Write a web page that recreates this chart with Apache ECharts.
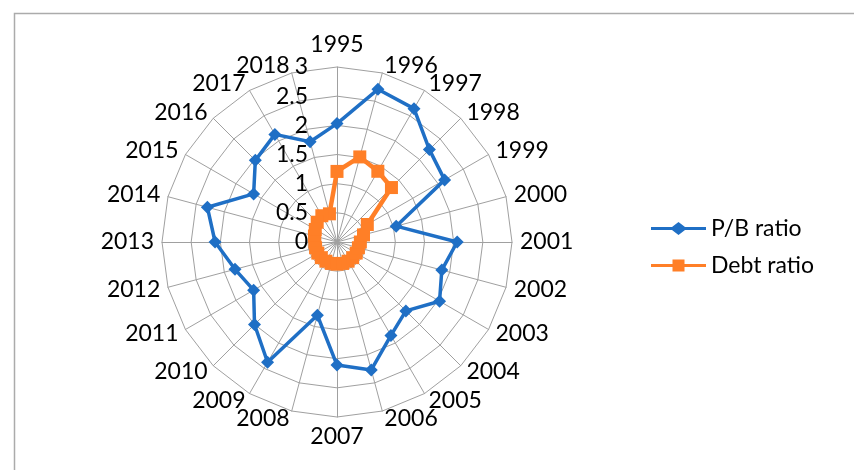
<!DOCTYPE html>
<html>
<head>
<meta charset="utf-8">
<script src="https://cdn.jsdelivr.net/npm/echarts@6/dist/echarts.min.js"></script>
<style>html,body{margin:0;padding:0;background:#fff;}#chart{width:854px;height:470px;}</style>
</head>
<body>
<div id="chart"></div>
<script>
const years = ['1995','1996','1997','1998','1999','2000','2001','2002','2003','2004','2005','2006','2007','2008','2009','2010','2011','2012','2013','2014','2015','2016','2017','2018'];
const pbRatio = [2.03,2.71,2.64,2.24,2.13,1.05,2.06,1.86,2.03,1.67,1.85,2.27,2.11,1.30,2.38,2.00,1.65,1.81,2.09,2.30,1.65,1.98,2.13,1.78];
const debtRatio = [1.21,1.51,1.40,1.32,0.60,0.47,0.40,0.38,0.38,0.38,0.38,0.38,0.38,0.38,0.38,0.38,0.38,0.38,0.38,0.40,0.43,0.48,0.52,0.50];
const axisMax = 3;
const seriesNames = ['P/B ratio','Debt ratio'];

const FONT = 'Lato';
const BLUE = '#1F6FC5';
const ORANGE = '#FF7F27';

// ECharts lays radar axes counter-clockwise; reorder so years run clockwise from the top.
const order = years.map((_, i) => (i === 0 ? 0 : years.length - i));
const reorder = arr => order.map(i => arr[i]);

const indicator = reorder(years).map((y, i) => {
  const o = { name: y, max: axisMax, min: 0 };
  if (i === 0) o.axisLabel = { show: true };
  return o;
});

const chart = echarts.init(document.getElementById('chart'));
chart.setOption({
  animation: false,
  backgroundColor: '#fff',
  graphic: [{
    type: 'rect', left: 12, top: 11, z: -1,
    shape: { width: 860, height: 480 },
    style: { fill: 'none', stroke: '#ABABAB', lineWidth: 1.5 }
  }],
  legend: {
    orient: 'vertical', left: 651, top: 217, itemGap: 14,
    itemWidth: 55, itemHeight: 13, padding: 0,
    textStyle: { fontFamily: FONT, fontSize: 23, color: '#000' },
    data: [
      { name: seriesNames[0], icon: 'path://M0,5 H21 L27.5,0 L34,5 H55 V8 H34 L27.5,13 L21,8 H0 Z' },
      { name: seriesNames[1], icon: 'path://M0,5 H21.5 V0.5 H33.5 V5 H55 V8 H33.5 V12.5 H21.5 V8 H0 Z' }
    ]
  },
  radar: {
    center: [337, 242], radius: 175, startAngle: 90,
    shape: 'polygon', splitNumber: 6,
    indicator: indicator,
    nameGap: 8,
    axisName: { color: '#000', fontFamily: FONT, fontSize: 23 },
    axisLine: { lineStyle: { color: '#A0A0A0', width: 1 } },
    splitLine: { lineStyle: { color: '#A0A0A0', width: 1 } },
    splitArea: { show: false },
    axisTick: { show: false },
    axisLabel: { show: false, color: '#000', fontFamily: FONT, fontSize: 23, margin: 29 }
  },
  series: [{
    type: 'radar',
    data: [
      { name: seriesNames[0], value: reorder(pbRatio), symbol: 'diamond', symbolSize: 13,
        lineStyle: { color: BLUE, width: 3.5 }, itemStyle: { color: BLUE } },
      { name: seriesNames[1], value: reorder(debtRatio), symbol: 'rect', symbolSize: 13,
        lineStyle: { color: ORANGE, width: 4.5 }, itemStyle: { color: ORANGE } }
    ]
  }]
});
</script>
</body>
</html>
